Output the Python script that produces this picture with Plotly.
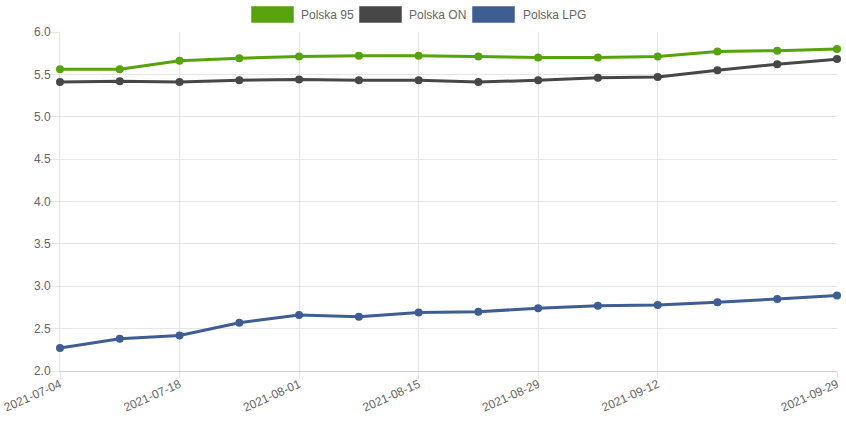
import plotly.graph_objects as go

dates = ["2021-07-04", "2021-07-11", "2021-07-18", "2021-07-25", "2021-08-01",
         "2021-08-08", "2021-08-15", "2021-08-22", "2021-08-29", "2021-09-05",
         "2021-09-12", "2021-09-19", "2021-09-26", "2021-09-29"]
tick_dates = ["2021-07-04", "2021-07-18", "2021-08-01", "2021-08-15",
              "2021-08-29", "2021-09-12", "2021-09-29"]
polska_95 = [5.56, 5.56, 5.66, 5.69, 5.71, 5.72, 5.72, 5.71, 5.70, 5.70, 5.71, 5.77, 5.78, 5.80]
polska_on = [5.41, 5.42, 5.41, 5.43, 5.44, 5.43, 5.43, 5.41, 5.43, 5.46, 5.47, 5.55, 5.62, 5.68]
polska_lpg = [2.27, 2.38, 2.42, 2.57, 2.66, 2.64, 2.69, 2.70, 2.74, 2.77, 2.78, 2.81, 2.85, 2.89]
y_ticks = [2.0, 2.5, 3.0, 3.5, 4.0, 4.5, 5.0, 5.5, 6.0]

series = [
    ("Polska 95", polska_95, "#57a30b"),
    ("Polska ON", polska_on, "#474747"),
    ("Polska LPG", polska_lpg, "#3e5d92"),
]

W, H = 846, 423
L, R, T, B = 60, 9, 32, 52
pw, ph = W - L - R, H - T - B

fig = go.Figure()
for name, vals, col in series:
    fig.add_trace(go.Scatter(
        x=dates, y=vals, name=name, mode="lines+markers",
        line=dict(color=col, width=3),
        marker=dict(color=col, size=8),
        cliponaxis=False, showlegend=False,
    ))

# custom legend (box + text), Chart.js style
def px2paper(x, y):
    return (x - L) / pw, (H - B - y) / ph

legend_items = [(251, 299), (359, 407), (472, 521)]
shapes = []
annotations = []
for (bx, tx), (name, _, col) in zip(legend_items, series):
    x0, y0 = px2paper(bx, 23)
    x1, y1 = px2paper(bx + 43, 6)
    shapes.append(dict(type="rect", xref="paper", yref="paper",
                       x0=x0, y0=y0, x1=x1, y1=y1,
                       fillcolor=col, line=dict(color="rgba(255,255,255,0.5)", width=1)))
    ax, ay = px2paper(tx, 14.5)
    annotations.append(dict(xref="paper", yref="paper", x=ax, y=ay,
                            text=name, showarrow=False, xanchor="left", yanchor="middle",
                            font=dict(size=12, color="#666666")))

fig.update_layout(
    width=W, height=H,
    margin=dict(l=L, r=R, t=T, b=B, pad=0, autoexpand=False),
    paper_bgcolor="white", plot_bgcolor="white",
    font=dict(family="Liberation Sans, Arial, Helvetica, sans-serif", size=12, color="#666666"),
    shapes=shapes, annotations=annotations,
    showlegend=False,
)
fig.update_xaxes(
    type="category", range=[0, len(dates) - 1], automargin=False,
    tickvals=tick_dates, ticktext=tick_dates, tickangle=-24,
    showgrid=True, gridcolor="#e6e6e6", gridwidth=1,
    showline=True, linecolor="#d0d0d0", linewidth=1,
    zeroline=False, ticks="outside", ticklen=7, tickcolor="#e6e6e6",
    ticklabelstandoff=-6, layer="below traces",
    tickfont=dict(size=12, color="#666666"),
)
fig.update_yaxes(
    range=[2.0, 6.0], tickvals=y_ticks, tickformat=".1f", automargin=False,
    showgrid=True, gridcolor="#e6e6e6", gridwidth=1,
    showline=True, linecolor="#e6e6e6", linewidth=1,
    zeroline=False, ticks="outside", ticklen=10, tickcolor="#e6e6e6",
    ticklabelstandoff=-4, layer="below traces",
    tickfont=dict(size=12, color="#666666"),
)

fig.write_html("out.html", config={"displayModeBar": False},
               post_script="document.body.style.margin='0';document.body.style.overflow='hidden';")
